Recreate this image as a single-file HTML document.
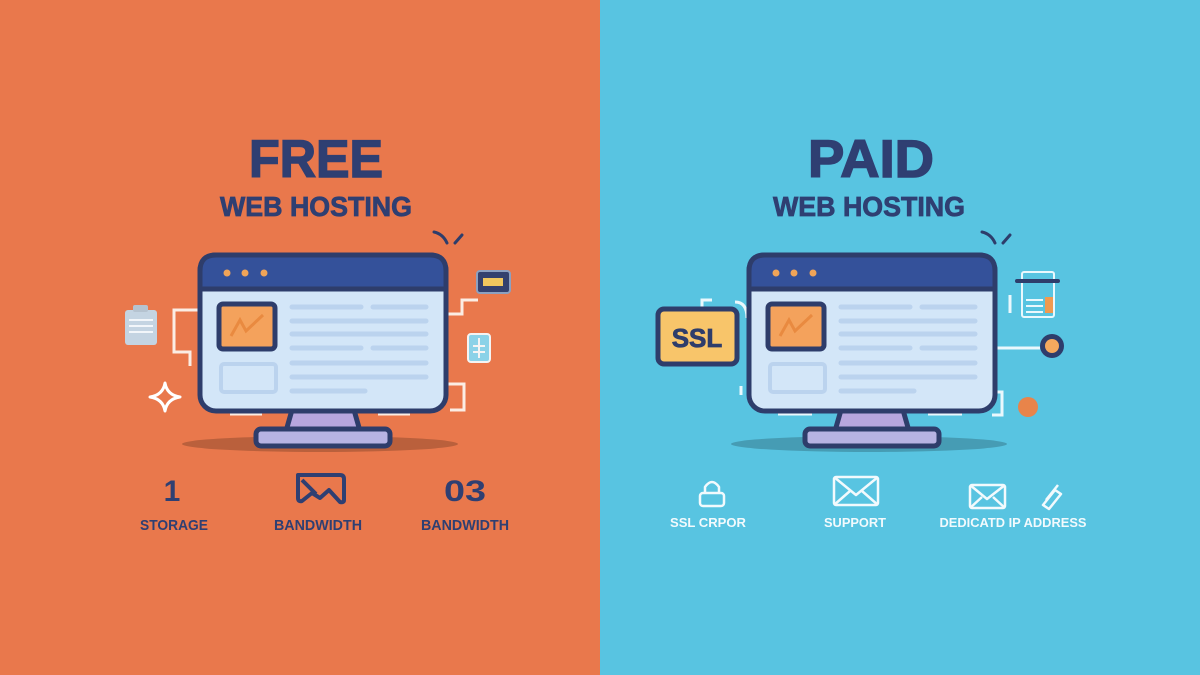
<!DOCTYPE html>
<html><head><meta charset="utf-8"><style>
html,body{margin:0;padding:0;width:1200px;height:675px;overflow:hidden}
svg{display:block}
text{font-family:"Liberation Sans",sans-serif;font-weight:bold}
</style></head><body>
<svg width="1200" height="675" viewBox="0 0 1200 675" xmlns="http://www.w3.org/2000/svg">
<defs>
<g id="mon">
  <ellipse cx="122" cy="191" rx="138" ry="8" fill="#000" opacity="0.2"/>
  <path d="M94 157 L156 157 L162 178 L88 178 Z" fill="#B7A6DE" stroke="#2E3D6B" stroke-width="5" stroke-linejoin="round"/>
  <rect x="58" y="176" width="134" height="17" rx="5" fill="#B7B3E3" stroke="#2E3D6B" stroke-width="5"/>
  <rect x="2" y="2" width="246" height="156" rx="16" fill="#D3E6F8" stroke="#2E3D6B" stroke-width="5"/>
  <path d="M2 18 Q2 2 18 2 L232 2 Q248 2 248 18 L248 36 L2 36 Z" fill="#34519A" stroke="#2E3D6B" stroke-width="5"/>
  <circle cx="29" cy="20" r="3.5" fill="#F0A458"/><circle cx="47" cy="20" r="3.5" fill="#F0A458"/><circle cx="66" cy="20" r="3.5" fill="#F0A458"/>
  <rect x="21" y="51" width="56" height="45" rx="4" fill="#F4A25C" stroke="#2E3D6B" stroke-width="5"/>
  <path d="M33 83 L42 67 L48 78 L65 62" fill="none" stroke="#E98A40" stroke-width="3"/>
  <rect x="23" y="111" width="55" height="28" rx="3" fill="none" stroke="#BBD3EE" stroke-width="4"/>
  <g stroke="#BBD3EE" stroke-width="5" stroke-linecap="round">
    <line x1="94" y1="54" x2="163" y2="54"/><line x1="175" y1="54" x2="228" y2="54"/>
    <line x1="94" y1="68" x2="228" y2="68"/><line x1="94" y1="81" x2="228" y2="81"/>
    <line x1="94" y1="95" x2="163" y2="95"/><line x1="175" y1="95" x2="228" y2="95"/>
    <line x1="94" y1="110" x2="228" y2="110"/><line x1="94" y1="124" x2="228" y2="124"/>
    <line x1="94" y1="138" x2="167" y2="138"/>
  </g>
</g>
</defs>
<rect x="0" y="0" width="600" height="675" fill="#E9784C"/>
<rect x="600" y="0" width="600" height="675" fill="#58C4E1"/>

<text x="316" y="177" font-size="53" fill="#2F3F72" stroke="#2F3F72" stroke-width="1.5" text-anchor="middle" textLength="134" lengthAdjust="spacingAndGlyphs">FREE</text>
<text x="316" y="216" font-size="28" fill="#2F3F72" stroke="#2F3F72" stroke-width="0.8" text-anchor="middle" textLength="192" lengthAdjust="spacingAndGlyphs">WEB HOSTING</text>
<text x="871" y="177" font-size="53" fill="#2F3F72" stroke="#2F3F72" stroke-width="1.5" text-anchor="middle" textLength="126" lengthAdjust="spacingAndGlyphs">PAID</text>
<text x="869" y="216" font-size="28" fill="#2F3F72" stroke="#2F3F72" stroke-width="0.8" text-anchor="middle" textLength="192" lengthAdjust="spacingAndGlyphs">WEB HOSTING</text>

<g fill="none" stroke="#FBEDE4" stroke-width="3">
  <path d="M198 310 L174 310 L174 352 L190 352 L190 366"/>
  <path d="M448 314 L462 314 L462 300 L478 300"/>
  <path d="M448 384 L464 384 L464 410 L450 410"/>
  <path d="M230 414 L262 414"/><path d="M378 414 L410 414"/>
</g>
<path d="M434 232 Q443 234 447 243 M455 243 L462 235" fill="none" stroke="#2E3D6B" stroke-width="3" stroke-linecap="round"/>
<rect x="477" y="271" width="33" height="22" rx="3" fill="#34416E" stroke="#8DA0C0" stroke-width="2"/>
<rect x="483" y="278" width="20" height="8" fill="#F1C75E"/>
<rect x="468" y="334" width="22" height="28" rx="3" fill="#8BD2E8" stroke="#F4F4F4" stroke-width="2"/>
<path d="M479 338 L479 358 M473 346 L485 346 M473 352 L485 352" stroke="#F4F4F4" stroke-width="2"/>
<rect x="125" y="310" width="32" height="35" rx="3" fill="#C4D4E2"/>
<rect x="133" y="305" width="15" height="7" rx="2" fill="#B5C3D0"/>
<g stroke="#F2F6FA" stroke-width="2"><line x1="129" y1="320" x2="153" y2="320"/><line x1="129" y1="326" x2="153" y2="326"/><line x1="129" y1="332" x2="153" y2="332"/></g>
<path d="M165 383 Q167 395 180 397 Q167 399 165 411 Q163 399 150 397 Q163 395 165 383 Z" fill="none" stroke="#FFF" stroke-width="3" stroke-linejoin="round"/>

<use href="#mon" x="198" y="253"/>

<g fill="none" stroke="#EAF8FD" stroke-width="3">
  <path d="M712 300 L702 300 L702 312"/>
  <path d="M735 302 Q747 302 747 318"/>
  <path d="M741 386 L741 395"/>
  <path d="M997 348 L1040 348"/>
  <path d="M990 392 L1002 392 L1002 415 L992 415"/>
  <path d="M778 414 L812 414"/><path d="M928 414 L962 414"/>
  <line x1="1010" y1="295" x2="1010" y2="313"/>
</g>
<path d="M982 232 Q991 234 995 243 M1003 243 L1010 235" fill="none" stroke="#2E3D6B" stroke-width="3" stroke-linecap="round"/>
<rect x="1022" y="272" width="32" height="45" rx="2" fill="none" stroke="#EAF8FD" stroke-width="2"/>
<line x1="1017" y1="281" x2="1058" y2="281" stroke="#2E3D6B" stroke-width="4" stroke-linecap="round"/>
<rect x="1045" y="297" width="8" height="16" fill="#F09A50"/>
<g stroke="#EAF8FD" stroke-width="2"><line x1="1026" y1="300" x2="1043" y2="300"/><line x1="1026" y1="306" x2="1043" y2="306"/><line x1="1026" y1="312" x2="1043" y2="312"/></g>
<circle cx="1052" cy="346" r="12" fill="#2E3D6B"/>
<circle cx="1052" cy="346" r="7" fill="#F4A95E"/>
<circle cx="1028" cy="407" r="10" fill="#E8844A"/>
<rect x="658" y="309" width="79" height="55" rx="6" fill="#F8C56A" stroke="#2E3D6B" stroke-width="5"/>
<text x="697" y="347" font-size="26" fill="#2E3D6B" stroke="#2E3D6B" stroke-width="0.8" text-anchor="middle">SSL</text>

<use href="#mon" x="747" y="253"/>

<text x="172" y="501" font-size="30" fill="#2F3F72" text-anchor="middle">1</text>
<text x="174" y="530" font-size="15" fill="#2F3F72" text-anchor="middle" textLength="68" lengthAdjust="spacingAndGlyphs">STORAGE</text>
<path d="M298 475 L340 475 Q344 475 344 479 L344 500 Q344 503 340 502 L329 490 L320 498 L312 493 L302 501 Q298 502 298 498 Z M302 480 L316 494" fill="none" stroke="#2F3F72" stroke-width="4" stroke-linejoin="round"/>
<text x="318" y="530" font-size="15" fill="#2F3F72" text-anchor="middle" textLength="88" lengthAdjust="spacingAndGlyphs">BANDWIDTH</text>
<text x="465" y="501" font-size="30" fill="#2F3F72" text-anchor="middle" textLength="42" lengthAdjust="spacingAndGlyphs">03</text>
<text x="465" y="530" font-size="15" fill="#2F3F72" text-anchor="middle" textLength="88" lengthAdjust="spacingAndGlyphs">BANDWIDTH</text>

<g fill="none" stroke="#F2FAFD" stroke-width="2.5" stroke-linejoin="round">
  <path d="M705 493 L705 487 Q712 477 719 487 L719 493"/>
  <rect x="700" y="493" width="24" height="13" rx="3"/>
  <rect x="834" y="477" width="44" height="28" rx="2"/>
  <path d="M834 477 L856 495 L878 477 M834 505 L850 491 M878 505 L862 491"/>
  <rect x="970" y="485" width="35" height="23" rx="2"/>
  <path d="M970 485 L987 499 L1005 485 M970 508 L982 497 M1005 508 L993 497"/>
  <path d="M1043 505 L1055 490 L1061 494 L1049 509 Z M1046 500 L1058 485"/>
</g>
<text x="708" y="527" font-size="13" fill="#F2FAFD" text-anchor="middle" textLength="76" lengthAdjust="spacingAndGlyphs">SSL CRPOR</text>
<text x="855" y="527" font-size="13" fill="#F2FAFD" text-anchor="middle" textLength="62" lengthAdjust="spacingAndGlyphs">SUPPORT</text>
<text x="1013" y="527" font-size="13" fill="#F2FAFD" text-anchor="middle" textLength="147" lengthAdjust="spacingAndGlyphs">DEDICATD IP ADDRESS</text>
</svg>
</body></html>
